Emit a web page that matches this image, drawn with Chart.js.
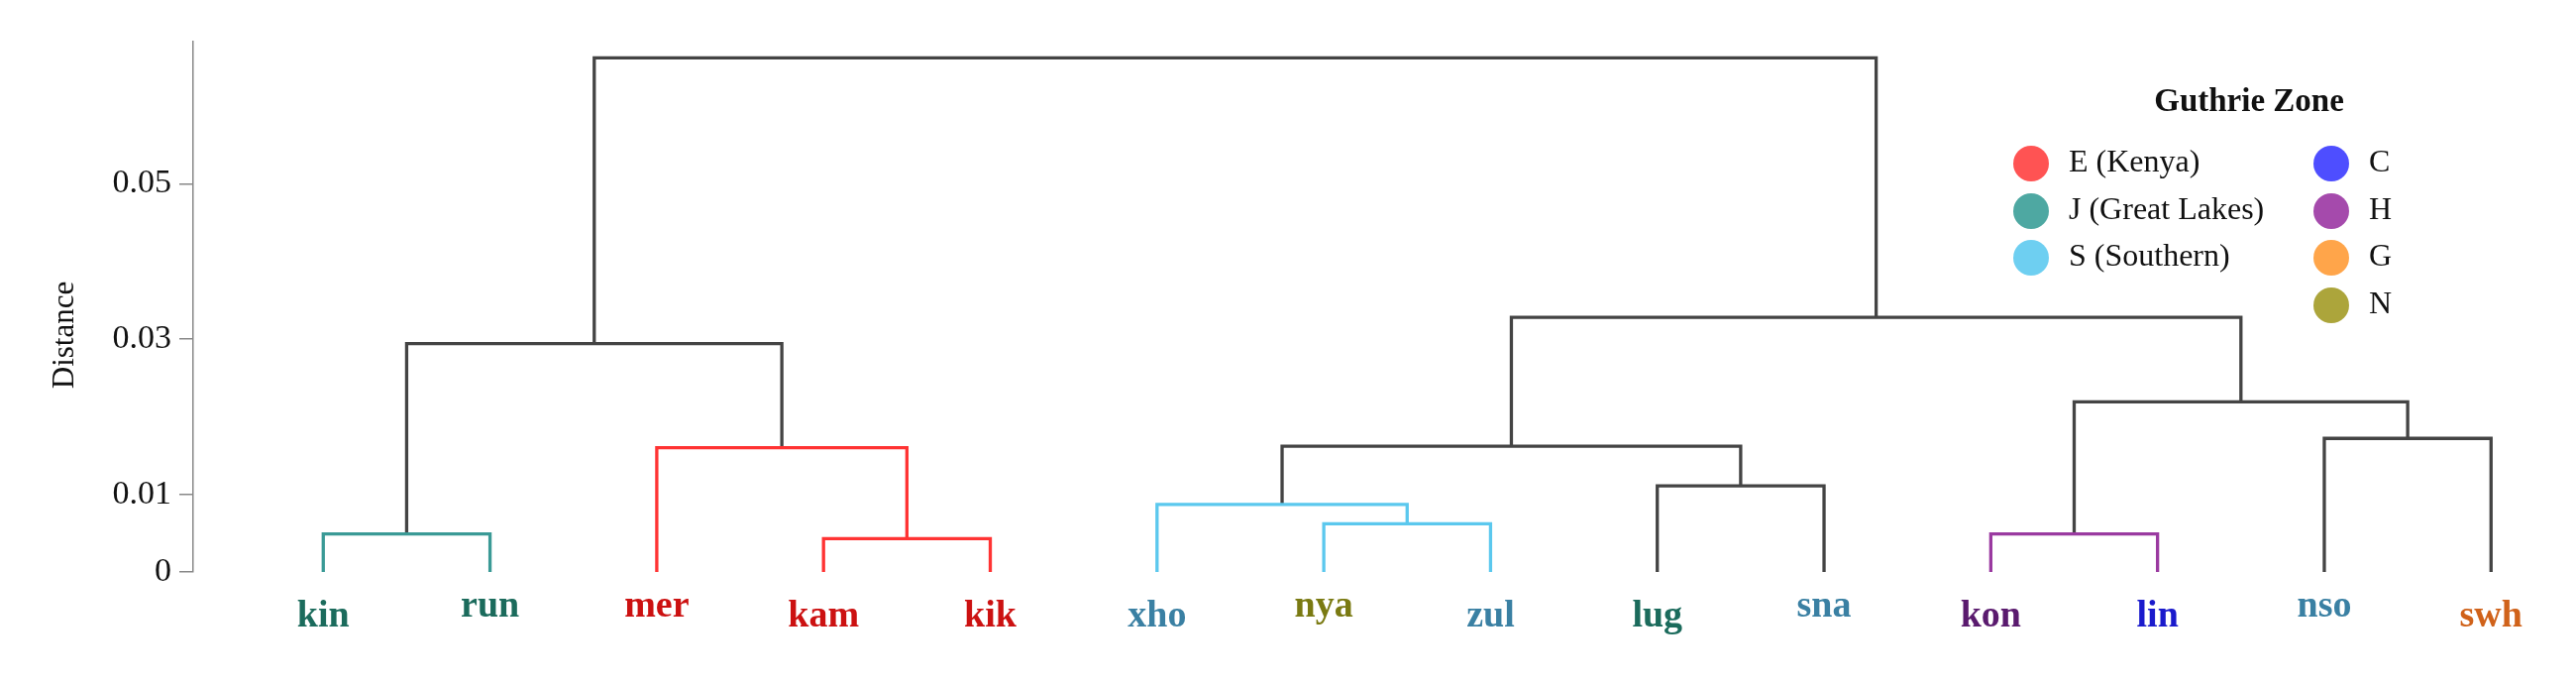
<!DOCTYPE html>
<html><head><meta charset="utf-8">
<script src="https://cdn.jsdelivr.net/npm/chart.js@4/dist/chart.umd.min.js"></script>
<style>html,body{margin:0;background:#fff}#w{width:2600px;height:690px}</style>
</head><body><div id="w"><canvas id="c"></canvas></div>
<script>
const leaves = ["kin","run","mer","kam","kik","xho","nya","zul","lug","sna","kon","lin","nso","swh"];
const leafColors = ["#1b6b5c","#1b6b5c","#cc1111","#cc1111","#cc1111","#3a80a3","#7a7a12","#3a80a3","#1b6b5c","#3a80a3","#5a1a6e","#1a1acc","#3a80a3","#d0621a"];
const leafRaised = [0,1,1,0,0,0,1,0,0,1,0,0,1,0];
const linkLeft  = [0,3,2,14,6,5,8,19,10,12,22,21,17];
const linkRight = [1,4,15,16,7,18,9,20,11,13,23,24,25];
const linkHeight= [0.0049,0.0043,0.016,0.0294,0.0062,0.0087,0.0111,0.0162,0.0049,0.0172,0.0219,0.0328,0.0662];
const linkColor = ["#3a9a96","#ff3333","#ff3333","#444444","#5bc8ee","#5bc8ee","#444444","#444444","#9a3aa0","#444444","#444444","#444444","#444444"];
const yTicks = [0,0.01,0.03,0.05];
const legendLabels = ["E (Kenya)","J (Great Lakes)","S (Southern)","C","H","G","N"];
const legendColors = ["#ff4a4a","#44a39d","#66ccf0","#4444ff","#a040a8","#ffa040","#a8a030"];

const nodeX = leaves.map((_, i) => i), nodeH = leaves.map(() => 0);
const datasets = [];
linkLeft.forEach((l, k) => {
  const r = linkRight[k], h = linkHeight[k];
  datasets.push({data:[{x:nodeX[l],y:nodeH[l]},{x:nodeX[l],y:h},{x:nodeX[r],y:h},{x:nodeX[r],y:nodeH[r]}],
    borderColor:linkColor[k], borderWidth:3.3, pointRadius:0, showLine:true, fill:false, tension:0});
  nodeX.push((nodeX[l]+nodeX[r])/2); nodeH.push(h);
});

const serif = "'Liberation Serif', 'DejaVu Serif', serif";
const deco = {
  id:'deco',
  afterDraw(ch){
    const c = ch.ctx, xs = ch.scales.x;
    c.save();
    c.textAlign='center'; c.textBaseline='middle';
    c.font = "bold 38px " + serif;
    leaves.forEach((t,i)=>{ c.fillStyle=leafColors[i]; c.fillText(t, xs.getPixelForValue(i), leafRaised[i]?612:622); });
    c.fillStyle='#111'; c.font = "bold 33px " + serif;
    c.fillText("Guthrie Zone", 2270, 103);
    c.save(); c.translate(66,338); c.rotate(-Math.PI/2); c.font="31px "+serif; c.fillText("Distance",0,0); c.restore();
    c.font = "32px " + serif; c.textAlign='left';
    const rows=[165,213,260,308];
    legendLabels.forEach((t,i)=>{
      const col = i<3?0:1, row = i<3?i:i-3;
      const cx = col?2353:2050, y = rows[row];
      c.globalAlpha=0.95; c.fillStyle=legendColors[i]; c.beginPath(); c.arc(cx,y,18,0,Math.PI*2); c.fill();
      c.globalAlpha=1; c.fillStyle='#111'; c.fillText(t, cx+38, y);
    });
    c.restore();
  }
};

new Chart(document.getElementById('c'), {
  type:'scatter',
  data:{datasets},
  options:{
    responsive:true, maintainAspectRatio:false, animation:false,
    layout:{padding:{top:42,right:10,bottom:113,left:0}},
    plugins:{legend:{display:false},tooltip:{enabled:false}},
    scales:{
      x:{type:'linear',min:-0.78,max:13.45,display:false},
      y:{type:'linear',min:0,max:0.0683,
        afterFit(s){s.width=195;},
        afterBuildTicks(s){s.ticks=yTicks.map(v=>({value:v}));},
        grid:{display:true,drawOnChartArea:false,drawTicks:true,tickLength:14,color:'#888',lineWidth:1.5},
        border:{display:true,color:'#888',width:1.5},
        ticks:{color:'#111',font:{family:serif,size:34},padding:8,callback:v=>String(v)},
        title:{display:false}
      }
    }
  },
  plugins:[deco]
});
</script></body></html>
